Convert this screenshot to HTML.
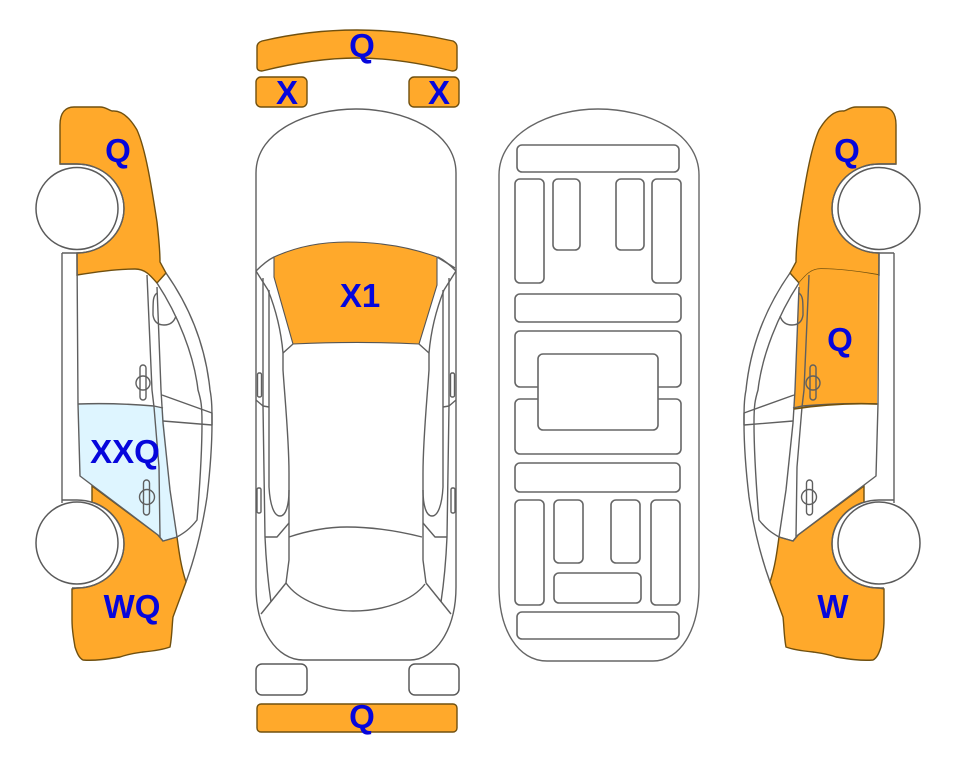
<!DOCTYPE html>
<html>
<head>
<meta charset="utf-8">
<style>
html,body{margin:0;padding:0;background:#fff;width:963px;height:768px;overflow:hidden}
svg{display:block}
text{font-family:"Liberation Sans",Arial,sans-serif;font-weight:bold;font-size:33px;fill:#0606dc;text-anchor:middle}
.o{fill:#ffa92b;stroke:#70500f;stroke-width:1.4}
.l{fill:none;stroke:#5f5f5f;stroke-width:1.4;stroke-linejoin:round}
.w{fill:#fff;stroke:#5a5a5a;stroke-width:1.5}
.f rect{fill:none;stroke:#666;stroke-width:1.6}
</style>
</head>
<body>
<svg width="963" height="768" viewBox="0 0 963 768" xmlns="http://www.w3.org/2000/svg">
<defs>
<path id="topfill" d="M60,164 L60,125 C60,112 66,107 74,107 L100,107 C106,107 108,110 112,111 C122,110 130,118 137,130 C146,150 152,190 157,222 C159,240 160,255 160,262 L166,273 L157,283 C150,275 145,269 135,269 C115,269 95,272 77,275 L77,253 A47,44.500 0 0 0 124,208.500 A47,44.500 0 0 0 77,164 Z"/>
<path id="botfill" d="M92,486 L92,502 A47,44 0 0 1 124,544 A47,44 0 0 1 77,588 L72,589 L72,620 C72,632 74,640 75,647 C77,653 79,658 83,660 C95,661 108,659 120,657 C128,654 136,653 143,652 C153,651 162,650 170,647 C172,637 172,625 173,617 L186,582 C181,567 179,552 177,537 L163,541 L158,535 Z"/>
<g id="sidelines" class="l">
  <path d="M166,273 C192,310 206,350 210,390 C212,400 212,410 212,423 C212,450 209,480 207,497 C202,530 194,560 186,582"/>
  <path d="M157,283 C178,315 194,355 198,390 C201,400 202,405 202,423 C202,460 199,495 197,520 C190,529 184,533 177,537"/>
  <path d="M147,275 L152,390 L154,407 L159,467 L160,537"/>
  <path d="M157,287 L161,390 L163,423 L170,490 L177,537"/>
  <path d="M162,395 L212,413 L212,425 L163,421"/>
  <path d="M157,293 C153,296 153,300 153,315 C154,322 158,325 164,325 C170,325 174,322 176,316"/>
  <path d="M62,253 L62,503"/>
  <path d="M77,253 L78,404 L80,476 L158,535 L163,541 L177,537"/>
  <path d="M60,164 H77 A47,44.500 0 0 1 124,208.500 A47,44.500 0 0 1 77,253 H62"/>
  <path d="M62,500 H77 A47,44 0 0 1 124,544 A47,44 0 0 1 77,588 H72"/>
  <path d="M78,404 C105,403 130,404 154,406 L163,408"/>
  <rect x="140" y="365" width="6" height="35" rx="3"/>
  <circle cx="143" cy="383" r="7"/>
  <rect x="143.500" y="480" width="6" height="35" rx="3"/>
  <circle cx="147" cy="497" r="7.500"/>
</g>
<g id="wheels" class="w">
  <circle cx="77" cy="208.500" r="41"/>
  <circle cx="77" cy="543" r="41"/>
</g>
<g id="plan" class="l">
  <path d="M256,271 C262,265 268,260 274,257"/>
  <path d="M256,271 L268,290 C276,310 281,330 283,353 L293,344"/>
  <path d="M283,353 L283,370 C285,400 289,440 289,473 L289,560 L286,583"/>
  <path d="M263,278 L263,406 L265,537 C266,560 268,582 271,602"/>
  <path d="M269,290 L269,487 C270,505 274,516 280,516 C286,516 289,505 289,490"/>
  <path d="M256,400 L263,406 L269,407"/>
  <path d="M265,537 L277,537 L289,523"/>
  <path d="M286,583 L261,614"/>
  <rect x="257.500" y="373" width="4" height="24" rx="1.500"/>
  <rect x="257" y="488" width="4" height="25" rx="1.500"/>
</g>
</defs>

<!-- left car -->
<use href="#topfill" class="o"/>
<use href="#botfill" class="o"/>
<path d="M78,404 C105,403 130,404 154,406 L163,408 L170,490 L177,537 L163,541 L158,535 L80,476 Z" fill="#def5ff" stroke="none"/>
<use href="#sidelines"/>
<use href="#wheels"/>

<!-- right car -->
<g transform="translate(956,0) scale(-1,1)">
  <use href="#topfill" class="o"/>
  <use href="#botfill" class="o"/>
  <path d="M78,275 C95,272 115,269 135,269 C145,269 150,275 157,283 L161,390 L162,409 C130,404 105,403 79,404 Z" fill="#ffa92b" stroke="none"/>
  <use href="#sidelines"/>
  <path d="M79,404 C105,403 130,404 162,409" fill="none" stroke="#70500f" stroke-width="1.6"/>
  <use href="#wheels"/>
</g>

<!-- top-view car -->
<path class="o" d="M257,47 C257,44 259,42 262,41 C292,34 325,30 357,30 C389,30 422,34 453,41 C455,42 457,44 457,47 L457,67 C457,70 455,71 452,71 C420,63 389,58 357,58 C325,58 294,63 262,71 C259,71 257,70 257,67 Z"/>
<rect class="o" x="256" y="77" width="51" height="30" rx="5"/>
<rect class="o" x="409" y="77" width="50" height="30" rx="5"/>
<path class="l" d="M256,173 C256,130 310,109 356,109 C402,109 456,130 456,173 L456,587 C456,630 435,660 410,660 L303,660 C277,660 256,630 256,587 Z"/>
<path class="o" style="stroke-width:1.1;stroke:#555" d="M274,257 C298,246 322,242 347,242 C380,242 410,247 437,257 L437,285 L419,344 C380,342 335,342 293,344 L274,277 Z"/>
<use href="#plan"/>
<g transform="translate(712,0) scale(-1,1)"><use href="#plan"/></g>
<path class="l" d="M437,257 L455,268"/>
<path class="l" d="M289,537 C310,530 330,527 347,527 C372,527 398,531 422,537"/>
<path class="l" d="M286,583 C298,600 325,611 353,611 C385,611 413,600 425,584"/>
<rect class="w" x="256" y="664" width="51" height="31" rx="6"/>
<rect class="w" x="409" y="664" width="50" height="31" rx="6"/>
<rect class="o" x="257" y="704" width="200" height="28" rx="4"/>

<!-- floor plan -->
<g class="f">
  <path class="l" style="stroke:#666;stroke-width:1.4" d="M499,175 C499,133 550,109 598,109 C648,109 699,133 699,175 L699,587 C699,630 680,661 653,661 L547,661 C518,661 499,630 499,587 Z"/>
  <rect x="517" y="145" width="162" height="27" rx="5"/>
  <rect x="515" y="179" width="29" height="104" rx="5"/>
  <rect x="553" y="179" width="27" height="71" rx="5"/>
  <rect x="616" y="179" width="28" height="71" rx="5"/>
  <rect x="652" y="179" width="29" height="104" rx="5"/>
  <rect x="515" y="294" width="166" height="28" rx="5"/>
  <rect x="515" y="331" width="166" height="56" rx="5"/>
  <rect x="515" y="399" width="166" height="55" rx="5"/>
  <rect x="538" y="354" width="120" height="76" rx="5" style="fill:#fff"/>
  <rect x="515" y="463" width="165" height="29" rx="5"/>
  <rect x="515" y="500" width="29" height="105" rx="5"/>
  <rect x="554" y="500" width="29" height="63" rx="5"/>
  <rect x="611" y="500" width="29" height="63" rx="5"/>
  <rect x="554" y="573" width="87" height="30" rx="5"/>
  <rect x="651" y="500" width="29" height="105" rx="5"/>
  <rect x="517" y="612" width="162" height="27" rx="5"/>
</g>

<!-- labels -->
<text x="118" y="162">Q</text>
<text x="125" y="463">XXQ</text>
<text x="132" y="618">WQ</text>
<text x="362" y="57">Q</text>
<text x="287" y="104">X</text>
<text x="439" y="104">X</text>
<text x="360" y="307">X1</text>
<text x="362" y="728">Q</text>
<text x="847" y="162">Q</text>
<text x="840" y="351">Q</text>
<text x="833" y="618">W</text>
</svg>
</body>
</html>
